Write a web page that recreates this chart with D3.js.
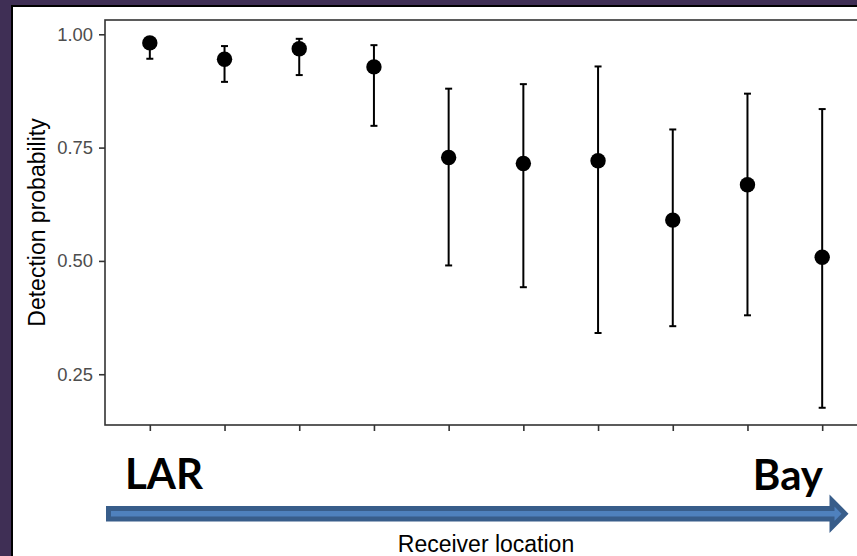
<!DOCTYPE html>
<html>
<head>
<meta charset="utf-8">
<script src="https://cdn.jsdelivr.net/npm/d3@7"></script>
<style>
    html, body { margin: 0; padding: 0; background: #3f2f55; }
    svg { display: block; }
</style>
</head>
<body>
<svg id="drawing_region"></svg>
<script>
// receiver locations, upstream (LAR) to downstream (Bay)
const receivers = ["R1", "R2", "R3", "R4", "R5", "R6", "R7", "R8", "R9", "R10"];
const estimate  = [0.981, 0.945, 0.968, 0.928, 0.728, 0.715, 0.721, 0.590, 0.668, 0.508];
const lower     = [0.946, 0.895, 0.910, 0.798, 0.490, 0.442, 0.341, 0.356, 0.380, 0.176];
const upper     = [0.990, 0.974, 0.990, 0.976, 0.880, 0.890, 0.929, 0.790, 0.869, 0.835];
const y_ticks   = [0.25, 0.50, 0.75, 1.00];

const config = {
    width: 857,
    height: 556,
    margin: {top:20, left:105, bottom:425, right:867}
};

const data = receivers.map( (r, i) => ({ r: r, est: estimate[i], lo: lower[i], hi: upper[i] }) );

const svg = d3.select('#drawing_region')
    .attr('width', config.width)
    .attr('height', config.height);

// white slide area with black edge
svg.append('rect')
    .attr('x', 12).attr('y', 6)
    .attr('width', config.width).attr('height', config.height)
    .attr('fill', 'white')
    .attr('stroke', 'black')
    .attr('stroke-width', 2);

const xscale = d3.scalePoint()
    .domain(receivers)
    .range([config.margin.left, config.margin.right])
    .padding(0.6);

const yscale = d3.scaleLinear()
    .domain([0.138, 1.0315])
    .range([config.margin.bottom, config.margin.top]);

// panel border
svg.append('rect')
    .attr('x', config.margin.left)
    .attr('y', config.margin.top)
    .attr('width', config.margin.right - config.margin.left)
    .attr('height', config.margin.bottom - config.margin.top)
    .attr('fill', 'none')
    .attr('stroke', '#333')
    .attr('stroke-width', 1.6);

const xaxis = d3.axisBottom(xscale).tickFormat('').tickSize(6).tickSizeOuter(0);
const yaxis = d3.axisLeft(yscale).tickValues(y_ticks).tickFormat(d3.format('.2f')).tickSize(6).tickSizeOuter(0);

const xg = svg.append('g')
    .attr('transform', `translate(0, ${config.margin.bottom})`)
    .call(xaxis);
const yg = svg.append('g')
    .attr('transform', `translate(${config.margin.left}, 0)`)
    .call(yaxis);

[xg, yg].forEach( g => {
    g.select('.domain').remove();
    g.selectAll('.tick line').attr('stroke', '#333').attr('stroke-width', 1.6);
});
yg.selectAll('.tick text')
    .attr('x', -12)
    .attr('fill', '#4d4d4d')
    .style('font-family', 'Liberation Sans, Arial, sans-serif')
    .style('font-size', '18.4px');

// error bars
const bars = svg.append('g').selectAll('g')
    .data(data)
    .join('g')
    .attr('stroke', 'black')
    .attr('stroke-width', 2);

bars.append('line')
    .attr('x1', d => xscale(d.r)).attr('x2', d => xscale(d.r))
    .attr('y1', d => yscale(d.lo)).attr('y2', d => yscale(d.hi));
bars.append('line')
    .attr('x1', d => xscale(d.r) - 3.5).attr('x2', d => xscale(d.r) + 3.5)
    .attr('y1', d => yscale(d.lo)).attr('y2', d => yscale(d.lo));
bars.append('line')
    .attr('x1', d => xscale(d.r) - 3.5).attr('x2', d => xscale(d.r) + 3.5)
    .attr('y1', d => yscale(d.hi)).attr('y2', d => yscale(d.hi));

svg.append('g').selectAll('circle')
    .data(data)
    .join('circle')
    .attr('cx', d => xscale(d.r))
    .attr('cy', d => yscale(d.est))
    .attr('r', 7.7)
    .attr('fill', 'black');

// axis titles
svg.append('text')
    .attr('transform', `translate(45, ${(config.margin.top + config.margin.bottom) / 2}) rotate(-90)`)
    .attr('text-anchor', 'middle')
    .style('font-family', 'Liberation Sans, Arial, sans-serif')
    .style('font-size', '23px')
    .attr('fill', 'black')
    .text('Detection probability');

svg.append('text')
    .attr('x', (config.margin.left + config.margin.right) / 2)
    .attr('y', 552)
    .attr('text-anchor', 'middle')
    .style('font-family', 'Liberation Sans, Arial, sans-serif')
    .style('font-size', '23px')
    .attr('fill', 'black')
    .text('Receiver location');

// direction arrow LAR -> Bay
svg.append('path')
    .attr('d', 'M108.5,508.5 H832 V500.5 L845,513.7 L832,526.9 V519 H108.5 Z')
    .attr('fill', '#4f81bd')
    .attr('stroke', '#385d8a')
    .attr('stroke-width', 5)
    .attr('stroke-linejoin', 'miter');

svg.append('text')
    .attr('x', 125).attr('y', 489)
    .style('font-family', 'Lato, sans-serif')
    .style('font-weight', 'bold')
    .style('font-size', '42px')
    .attr('fill', 'black')
    .text('LAR');

svg.append('text')
    .attr('x', 823).attr('y', 490)
    .attr('text-anchor', 'end')
    .style('font-family', 'Lato, sans-serif')
    .style('font-weight', 'bold')
    .style('font-size', '42px')
    .attr('fill', 'black')
    .text('Bay');
</script>
</body>
</html>
